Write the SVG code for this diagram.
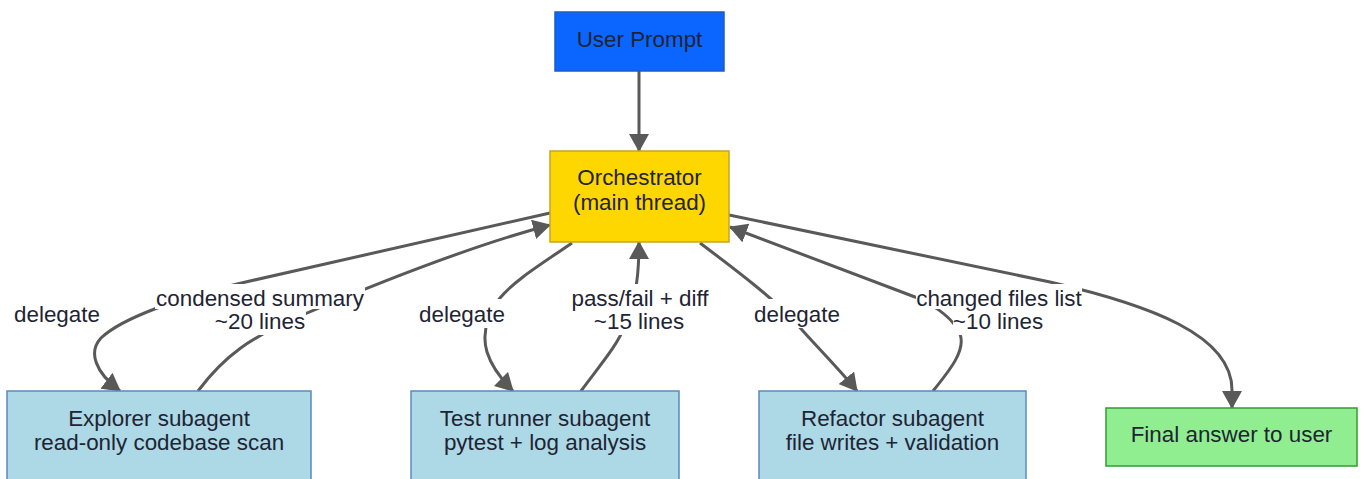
<svg xmlns="http://www.w3.org/2000/svg" width="1362" height="479" viewBox="0 0 1362 479">
  <defs>
    <marker id="arrow" viewBox="0 0 18 20" markerWidth="18" markerHeight="20" refX="17" refY="10" orient="auto" markerUnits="userSpaceOnUse">
      <path d="M0,0 L18,10 L0,20 z" fill="#595959"/>
    </marker>
    <style>
      .node rect { stroke-width: 1.5; }
      .lbl { font-family: "Liberation Sans", Arial, sans-serif; font-size: 22.4px; fill: #1e2433; text-anchor: middle; }
      .edge { fill: none; stroke: #595959; stroke-width: 3; marker-end: url(#arrow); }
      .bg { fill: #ffffff; }
      .prompt rect { fill: #0a66ff; stroke: #1d5cc4; }
      .orch rect { fill: #ffd700; stroke: #c9a227; }
      .sub rect { fill: #add8e6; stroke: #5a8bbf; }
      .final rect { fill: #90ee90; stroke: #2f9e2f; }
    </style>
  </defs>

  <!-- connectors -->
  <g id="connectors">
    <path class="edge" d="M639,71 L639,151"/>
    <!-- explorer -->
    <path class="edge" d="M550,213 L250,281 C180,297 122,318 101,338 C88,352 95,372 120,391"/>
    <path class="edge" d="M198,391 C225,355 250,338 300,316 C380,282 470,246 550,225"/>
    <!-- test runner -->
    <path class="edge" d="M572,243 C540,265 515,280 500,298 C485,318 482,335 487,352 C492,368 502,380 513,391"/>
    <path class="edge" d="M581,391 C600,365 618,345 625,325 C634,300 639,285 639,242"/>
    <!-- refactor -->
    <path class="edge" d="M700,243 C740,273 775,300 795,322 C815,345 840,370 857,391"/>
    <path class="edge" d="M933,391 C950,370 966,350 960,334 C954,320 940,308 915,297 L730,227"/>
    <!-- final -->
    <path class="edge" d="M729,215 L1050,282 C1150,305 1232,335 1232,390 L1232,408"/>

    <!-- edge labels -->
    <g id="edge-labels">
      <rect class="bg" x="14" y="300" width="86" height="28"/>
      <text class="lbl" x="57" y="322">delegate</text>

      <rect class="bg" x="155" y="284" width="210" height="25"/>
      <rect class="bg" x="214" y="309" width="92" height="26"/>
      <text class="lbl" x="260" y="306">condensed summary</text>
      <text class="lbl" x="260" y="329">~20 lines</text>

      <rect class="bg" x="419" y="299" width="86" height="29"/>
      <text class="lbl" x="462" y="322">delegate</text>

      <rect class="bg" x="569" y="284" width="142" height="25"/>
      <rect class="bg" x="594" y="309" width="90" height="26"/>
      <text class="lbl" x="640" y="306">pass/fail + diff</text>
      <text class="lbl" x="639" y="329">~15 lines</text>

      <rect class="bg" x="754" y="299" width="86" height="29"/>
      <text class="lbl" x="797" y="322">delegate</text>

      <rect class="bg" x="916" y="284" width="166" height="25"/>
      <rect class="bg" x="953" y="309" width="90" height="26"/>
      <text class="lbl" x="999" y="306">changed files list</text>
      <text class="lbl" x="998" y="329">~10 lines</text>
    </g>
  </g>

  <!-- nodes -->
  <g id="user-prompt" class="node prompt">
    <rect x="555" y="12" width="169" height="59"/>
    <text class="lbl" x="639.5" y="47">User Prompt</text>
  </g>
  <g id="orchestrator" class="node orch">
    <rect x="550" y="151" width="179" height="91"/>
    <text class="lbl" x="639.5" y="185">Orchestrator</text>
    <text class="lbl" x="639.5" y="210">(main thread)</text>
  </g>
  <g id="explorer" class="node sub">
    <rect x="7" y="391" width="304" height="100"/>
    <text class="lbl" x="159" y="426">Explorer subagent</text>
    <text class="lbl" x="159" y="450">read-only codebase scan</text>
  </g>
  <g id="test-runner" class="node sub">
    <rect x="411" y="391" width="268" height="100"/>
    <text class="lbl" x="545" y="426">Test runner subagent</text>
    <text class="lbl" x="545" y="450">pytest + log analysis</text>
  </g>
  <g id="refactor" class="node sub">
    <rect x="759" y="391" width="267" height="100"/>
    <text class="lbl" x="892.5" y="426">Refactor subagent</text>
    <text class="lbl" x="892.5" y="450">file writes + validation</text>
  </g>
  <g id="final-answer" class="node final">
    <rect x="1106" y="408" width="251" height="58"/>
    <text class="lbl" x="1231.5" y="442">Final answer to user</text>
  </g>
</svg>
